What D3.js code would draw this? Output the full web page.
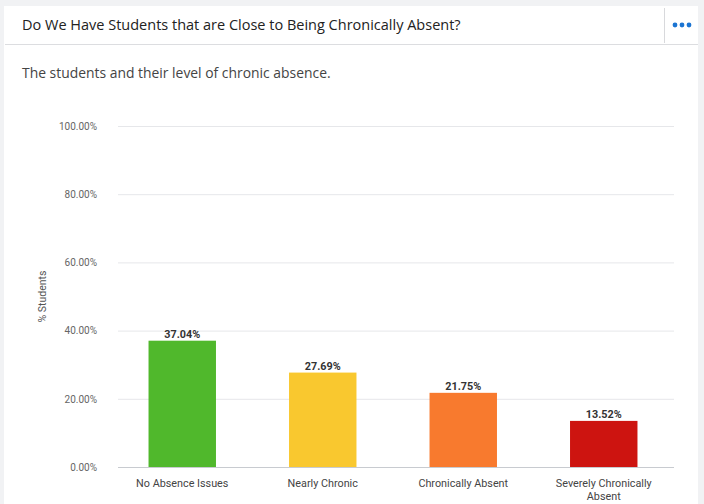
<!DOCTYPE html>
<html>
<head>
<meta charset="utf-8">
<script src="https://cdn.jsdelivr.net/npm/d3@7"></script>
<style>
  html, body { margin: 0; padding: 0; background: #f1f2f4; }
  svg { display: block; }
</style>
</head>
<body>
<script>
// ---------------------- DATA ----------------------

const categories = ["No Absence Issues", "Nearly Chronic", "Chronically Absent", "Severely Chronically Absent"];
const values = [37.04, 27.69, 21.75, 13.52];
const barColors = ["#50b82c", "#f9c82f", "#f87a2e", "#cd1410"];
const yTicks = [0, 20, 40, 60, 80, 100];

// ---------------------- LAYOUT ----------------------

const width = 704, height = 504;
const plot = { left: 112, right: 674, top: 126, bottom: 467 };

const svg = d3.select("body").append("svg")
    .attr("width", width)
    .attr("height", height);

// card background
svg.append("rect")
    .attr("x", 4).attr("y", 6)
    .attr("width", 694).attr("height", height - 6)
    .attr("fill", "#fff");

// header
svg.append("line")
    .attr("x1", 5).attr("x2", 698)
    .attr("y1", 44.5).attr("y2", 44.5)
    .attr("stroke", "#dcdde0");

svg.append("line")
    .attr("x1", 664.5).attr("x2", 664.5)
    .attr("y1", 8).attr("y2", 43)
    .attr("stroke", "#d8d9dc");

svg.append("text")
    .attr("x", 22).attr("y", 30)
    .attr("font-family", "'Open Sans', sans-serif")
    .attr("font-size", 14.5)
    .attr("fill", "#222")
    .text("Do We Have Students that are Close to Being Chronically Absent?");

svg.selectAll(".dot")
    .data([0, 1, 2])
    .enter().append("circle")
    .attr("cx", d => 675 + d * 7)
    .attr("cy", 25)
    .attr("r", 2.4)
    .attr("fill", "#1b74d2");

svg.append("text")
    .attr("x", 22).attr("y", 78)
    .attr("font-family", "'Open Sans', sans-serif")
    .attr("font-size", 13.9)
    .attr("fill", "#444")
    .text("The students and their level of chronic absence.");

// ---------------------- SCALES ----------------------

const x = d3.scaleBand()
    .domain(categories)
    .range([plot.left, plot.right])
    .paddingInner(0.52)
    .paddingOuter(0.26);

const y = d3.scaleLinear()
    .domain([0, 100])
    .range([plot.bottom, plot.top]);

// ---------------------- GRID + AXES ----------------------

const yAxis = svg.append("g")
    .attr("transform", `translate(${plot.left + 6},0)`)
    .call(d3.axisLeft(y)
        .tickValues(yTicks)
        .tickSize(-(plot.right - plot.left - 6))
        .tickPadding(21)
        .tickFormat(d => d3.format(".2f")(d) + "%"));

yAxis.select(".domain").remove();
yAxis.selectAll(".tick line")
    .attr("stroke", d => d === 0 ? "#c8cbd0" : "#e6e7ea");
yAxis.selectAll(".tick text")
    .attr("font-family", "Roboto, sans-serif")
    .attr("font-size", 10)
    .attr("fill", "#666");

svg.append("text")
    .attr("transform", `translate(46,${(plot.top + plot.bottom) / 2}) rotate(-90)`)
    .attr("text-anchor", "middle")
    .attr("font-family", "Roboto, sans-serif")
    .attr("font-size", 10.5)
    .attr("fill", "#555")
    .text("% Students");

// ---------------------- BARS ----------------------

svg.selectAll(".bar")
    .data(values)
    .enter().append("rect")
    .attr("class", "bar")
    .attr("x", (d, i) => x(categories[i]))
    .attr("y", d => y(d))
    .attr("width", x.bandwidth())
    .attr("height", d => y(0) - y(d))
    .attr("fill", (d, i) => barColors[i]);

svg.selectAll(".value")
    .data(values)
    .enter().append("text")
    .attr("class", "value")
    .attr("x", (d, i) => x(categories[i]) + x.bandwidth() / 2)
    .attr("y", d => y(d) - 3)
    .attr("text-anchor", "middle")
    .attr("font-family", "Roboto, sans-serif")
    .attr("font-size", 10.8)
    .attr("font-weight", "bold")
    .attr("fill", "#333")
    .text(d => d3.format(".2f")(d) + "%");

// category labels (wrap the long one)
const catLines = c => c === "Severely Chronically Absent" ? ["Severely Chronically", "Absent"] : [c];

const catLabel = svg.selectAll(".cat")
    .data(categories)
    .enter().append("text")
    .attr("class", "cat")
    .attr("text-anchor", "middle")
    .attr("font-family", "Roboto, sans-serif")
    .attr("font-size", 10.8)
    .attr("fill", "#444");

catLabel.selectAll("tspan")
    .data(c => catLines(c).map(t => ({ t, c })))
    .enter().append("tspan")
    .attr("x", d => x(d.c) + x.bandwidth() / 2)
    .attr("y", (d, i) => 487 + i * 13)
    .text(d => d.t);
</script>
</body>
</html>
